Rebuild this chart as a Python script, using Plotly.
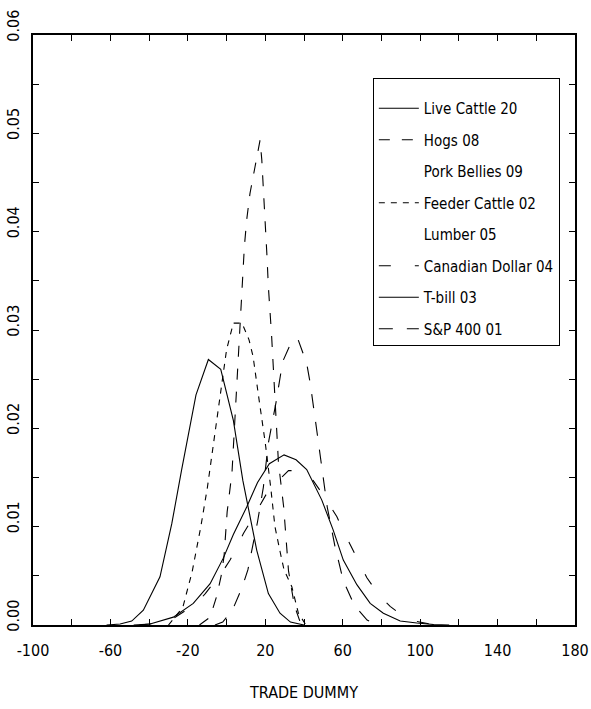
import plotly.graph_objects as go

FONT = "DejaVu Sans Condensed, Liberation Sans Narrow, Arial Narrow, sans-serif"

# ---- data ----
live_cattle_x = [-62, -55, -49, -43, -34.4, -28.3, -23.2, -15.8, -9.4, -3.0, 3.5, 8.4, 15.6, 21.6, 27.6, 33, 40]
live_cattle_y = [0, 0.0001, 0.0004, 0.0015, 0.0049, 0.0103, 0.0158, 0.0234, 0.0270, 0.0260, 0.0208, 0.0147, 0.0076, 0.0032, 0.0012, 0.0003, 0]

hogs_x = [-14, -8.5, -5, -2.8, -1.3, -0.5, 0.3, 2.8, 3.5, 5, 7, 8.4, 9.2, 10.4, 12.1, 14.7, 17.3, 18.2, 19, 19.9, 20.8, 21.6, 22.5, 23.3, 26.8, 29.5, 32, 35, 38, 42]
hogs_y = [0, 0.0008, 0.003, 0.005, 0.007, 0.0094, 0.0115, 0.0155, 0.018, 0.023, 0.030, 0.0358, 0.0385, 0.0412, 0.0439, 0.0466, 0.0493, 0.0473, 0.0446, 0.0412, 0.0378, 0.0344, 0.0317, 0.0293, 0.0165, 0.012, 0.0055, 0.002, 0.0003, 0]

# not drawn in the reference (blank line style); kept as a legend entry only
pork_bellies_x = [0]
pork_bellies_y = [0]

feeder_cattle_x = [-30, -22.6, -17.8, -13.3, -9.9, -6.8, -3.4, 0, 3.5, 8, 11.6, 13.7, 16.8, 20, 22.8, 25, 27.6, 29.7, 33.7, 37.1, 41]
feeder_cattle_y = [0, 0.0018, 0.0054, 0.010, 0.014, 0.0185, 0.0234, 0.028, 0.0307, 0.0307, 0.029, 0.0273, 0.0229, 0.0185, 0.014, 0.010, 0.0075, 0.0056, 0.0039, 0.0012, 0]

# not drawn in the reference (blank line style); kept as a legend entry only
lumber_x = [0]
lumber_y = [0]

cad_dollar_x = [-45, -35, -28, -23, -15.4, -11, -2.5, 1.8, 8.7, 13.9, 20.8, 26.8, 32, 37.1, 44.7, 50, 57, 61.2, 67.3, 72.5, 79.3, 84.5, 91.2, 97.4, 105, 115]
cad_dollar_y = [0, 0.0002, 0.0006, 0.0012, 0.0022, 0.0032, 0.0053, 0.0066, 0.0093, 0.011, 0.0134, 0.0147, 0.0157, 0.0157, 0.0147, 0.0132, 0.011, 0.0092, 0.0068, 0.0048, 0.0029, 0.0019, 0.0009, 0.0004, 0.0001, 0]

tbill_x = [-48, -39.5, -27.5, -17.2, -8.5, -1.7, 3.5, 10.4, 16, 22.1, 29.7, 35.9, 41.4, 49.2, 55, 60.3, 67.3, 74.2, 81, 89.7, 98.3, 107, 115]
tbill_y = [0, 0.0001, 0.0008, 0.0022, 0.0042, 0.0068, 0.0092, 0.0120, 0.0145, 0.0164, 0.0173, 0.0168, 0.0158, 0.0127, 0.0097, 0.0066, 0.0041, 0.0022, 0.0012, 0.0004, 0.0002, 0.00005, 0]

sp400_x = [-6, -2, 3, 8, 11, 16, 19, 21.6, 25.6, 29, 34, 37, 41.4, 43.2, 46.1, 49.2, 52, 56, 60.3, 66, 72.6, 78]
sp400_y = [0, 0.0003, 0.0015, 0.0038, 0.0056, 0.0105, 0.014, 0.0185, 0.0227, 0.0268, 0.029, 0.029, 0.0266, 0.0246, 0.0205, 0.016, 0.012, 0.008, 0.0045, 0.002, 0.0005, 0]

series_names = ["Live Cattle 20", "Hogs 08", "Pork Bellies 09", "Feeder Cattle 02",
                "Lumber 05", "Canadian Dollar 04", "T-bill 03", "S&P 400 01"]

x_tick_vals = list(range(-100, 181, 20))
x_tick_labels = ["-100", "", "-60", "", "-20", "", "20", "", "60", "", "100", "", "140", "", "180"]
y_tick_vals = [i * 0.005 for i in range(13)]
y_tick_labels = ["0.00", "", "0.01", "", "0.02", "", "0.03", "", "0.04", "", "0.05", "", "0.06"]

series = [
    (live_cattle_x, live_cattle_y, "solid", "black"),
    (hogs_x, hogs_y, "11px,12px", "black"),
    (pork_bellies_x, pork_bellies_y, "solid", "rgba(0,0,0,0)"),
    (feeder_cattle_x, feeder_cattle_y, "6px,6px", "black"),
    (lumber_x, lumber_y, "solid", "rgba(0,0,0,0)"),
    (cad_dollar_x, cad_dollar_y, "12px,24px", "black"),
    (tbill_x, tbill_y, "solid", "black"),
    (sp400_x, sp400_y, "14px,14px", "black"),
]

fig = go.Figure()
for name, (xs, ys, dash, color) in zip(series_names, series):
    fig.add_trace(go.Scatter(x=xs, y=ys, mode="lines", name=name, legendgroup=name,
                             hoverinfo="skip" if color != "black" else None,
                             line=dict(color=color, width=1.1, dash=dash)))

fig.update_layout(
    width=591, height=709,
    margin=dict(l=33, r=16, t=35, b=84),
    paper_bgcolor="white", plot_bgcolor="white",
    font=dict(family=FONT, size=15, color="black"),
    showlegend=True,
    legend=dict(x=0.627, y=0.927, xanchor="left", yanchor="top",
                bordercolor="black", borderwidth=1, bgcolor="white",
                tracegroupgap=9, font=dict(family=FONT, size=15),
                title=dict(text=" ", font=dict(family=FONT, size=10)),
                itemwidth=40),
    xaxis=dict(range=[-100, 180], tickvals=x_tick_vals, ticktext=x_tick_labels,
               ticks="inside", ticklen=6, tickwidth=1, tickcolor="black",
               showline=True, linecolor="black", linewidth=2, mirror="allticks",
               showgrid=False, zeroline=False, ticklabelstandoff=10, automargin=False,
               tickfont=dict(family=FONT, size=16),
               title=dict(text="TRADE DUMMY", font=dict(family=FONT, size=16), standoff=28)),
    yaxis=dict(range=[0, 0.06], tickvals=y_tick_vals, ticktext=y_tick_labels,
               ticks="inside", ticklen=6, tickwidth=1, tickcolor="black",
               showline=True, linecolor="black", linewidth=2, mirror="allticks",
               showgrid=False, zeroline=False, tickangle=-90, ticklabelshift=-7,
               ticklabelstandoff=6, automargin=False,
               tickfont=dict(family=FONT, size=16)),
)

fig.write_html("out.html")
